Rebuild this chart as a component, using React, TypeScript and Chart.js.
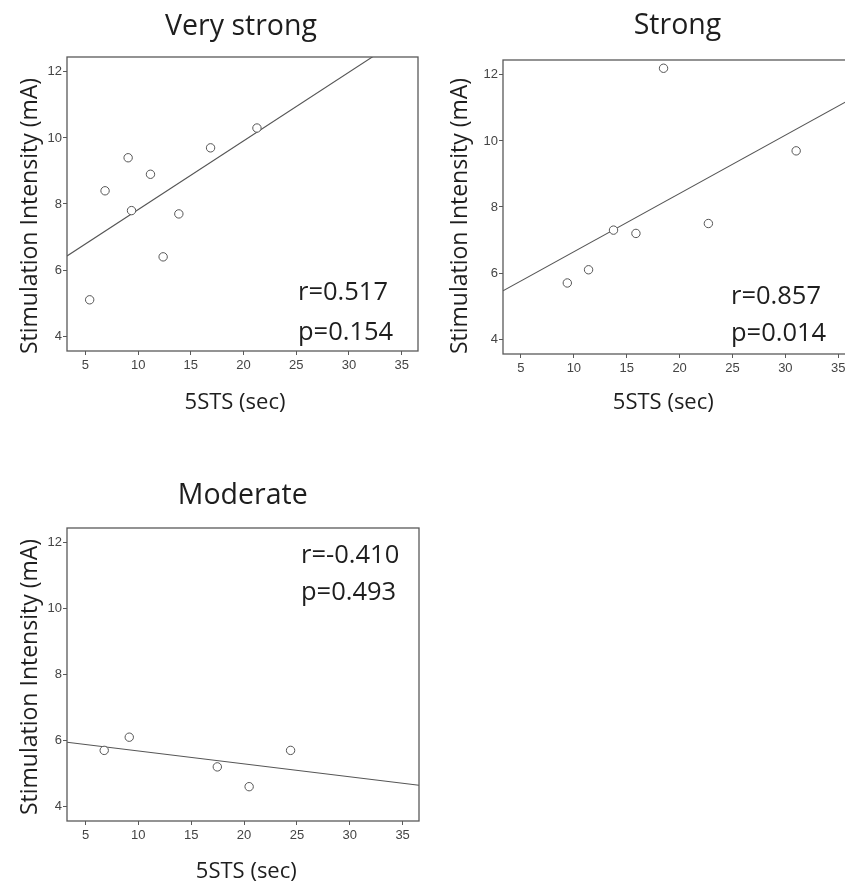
import React, { useEffect, useRef } from "react";
import { Chart, registerables } from "chart.js";

Chart.register(...registerables);

// ---------- data ----------
const panelTitles = ["Very strong", "Strong", "Moderate"];
const xAxisLabel = "5STS (sec)";
const yAxisLabel = "Stimulation Intensity (mA)";
const xTickValues = [5, 10, 15, 20, 25, 30, 35];
const yTickValues = [4, 6, 8, 10, 12];

const veryStrongX = [5.4, 6.86, 9.05, 9.37, 11.17, 12.37, 13.86, 16.87, 21.27];
const veryStrongY = [5.1, 8.4, 9.4, 7.8, 8.9, 6.4, 7.7, 9.7, 10.3];
const strongX = [9.38, 11.39, 13.75, 15.87, 18.48, 22.72, 31.02];
const strongY = [5.7, 6.1, 7.3, 7.2, 12.2, 7.5, 9.7];
const moderateX = [6.77, 9.14, 17.47, 20.48, 24.4];
const moderateY = [5.7, 6.1, 5.2, 4.6, 5.7];

const fitIntercepts = [5.75, 4.878, 6.076];
const fitSlopes = [0.208, 0.1765, -0.0392];
const rLabels = ["r=0.517", "r=0.857", "r=-0.410"];
const pLabels = ["p=0.154", "p=0.014", "p=0.493"];

// ---------- layout ----------
type PanelCfg = {
  left: number; top: number; width: number; height: number;
  area: { left: number; right: number; top: number; bottom: number };
  xMin: number; xMax: number; yMin: number; yMax: number;
  titleX: number; titleY: number;
  yLabelX: number; yLabelY: number;
  xLabelX: number; xLabelY: number;
  statsX: number; rY: number; pY: number;
};

const layouts: PanelCfg[] = [
  {
    left: 0, top: 0, width: 420, height: 420,
    area: { left: 67, right: 418, top: 57, bottom: 351 },
    xMin: 3.25, xMax: 36.55, yMin: 3.55, yMax: 12.45,
    titleX: 241, titleY: 34.5,
    yLabelX: 37, yLabelY: 216,
    xLabelX: 235, xLabelY: 409,
    statsX: 298, rY: 299.5, pY: 340,
  },
  {
    left: 420, top: 0, width: 440, height: 420,
    area: { left: 83, right: 432, top: 60, bottom: 354 },
    xMin: 3.3, xMax: 36.3, yMin: 3.55, yMax: 12.45,
    titleX: 257.5, titleY: 34,
    yLabelX: 47, yLabelY: 216,
    xLabelX: 243.3, xLabelY: 409,
    statsX: 311, rY: 304, pY: 340.5,
  },
  {
    left: 0, top: 440, width: 420, height: 446,
    area: { left: 67, right: 419, top: 88, bottom: 381 },
    xMin: 3.25, xMax: 36.55, yMin: 3.56, yMax: 12.44,
    titleX: 242.7, titleY: 64,
    yLabelX: 37, yLabelY: 237,
    xLabelX: 246.3, xLabelY: 437.7,
    statsX: 301, rY: 122.7, pY: 160,
  },
];

const seriesX = [veryStrongX, strongX, moderateX];
const seriesY = [veryStrongY, strongY, moderateY];

const TEXT_FONT = "'Open Sans', Lato, sans-serif";
const AXIS_COLOR = "#595959";
const TICK_FONT = "'Liberation Sans', Arial, sans-serif";

function Panel({ index }: { index: number }) {
  const ref = useRef<HTMLCanvasElement | null>(null);
  const cfg = layouts[index];

  useEffect(() => {
    if (!ref.current) return;
    const xs = seriesX[index];
    const ys = seriesY[index];
    const a = fitIntercepts[index];
    const b = fitSlopes[index];

    const textPlugin = {
      id: "panelText" + index,
      afterDraw(chart: any) {
        const ctx = chart.ctx;
        const ca = chart.chartArea;
        ctx.save();
        // frame
        ctx.strokeStyle = AXIS_COLOR;
        ctx.lineWidth = 1.3;
        ctx.strokeRect(ca.left, ca.top, ca.right - ca.left, ca.bottom - ca.top);
        ctx.fillStyle = "#1e1e1e";
        ctx.textBaseline = "alphabetic";
        // title
        ctx.font = `28.5px ${TEXT_FONT}`;
        ctx.textAlign = "center";
        ctx.fillText(panelTitles[index], cfg.titleX, cfg.titleY);
        // x axis label
        ctx.font = `22px ${TEXT_FONT}`;
        ctx.fillText(xAxisLabel, cfg.xLabelX, cfg.xLabelY);
        // y axis label
        ctx.save();
        ctx.translate(cfg.yLabelX, cfg.yLabelY);
        ctx.rotate(-Math.PI / 2);
        ctx.font = `23px ${TEXT_FONT}`;
        ctx.fillText(yAxisLabel, 0, 0);
        ctx.restore();
        // stats
        ctx.font = `25.5px ${TEXT_FONT}`;
        ctx.textAlign = "left";
        ctx.fillText(rLabels[index], cfg.statsX, cfg.rY);
        ctx.fillText(pLabels[index], cfg.statsX, cfg.pY);
        ctx.restore();
      },
    };

    const chart = new Chart(ref.current, {
      type: "scatter",
      data: {
        datasets: [
          {
            type: "scatter",
            data: xs.map((x, i) => ({ x, y: ys[i] })),
            pointRadius: 4.2,
            pointHoverRadius: 4.2,
            pointBorderWidth: 1,
            pointBorderColor: "#555",
            pointBackgroundColor: "#fff",
            order: 0,
          } as any,
          {
            type: "line",
            data: [
              { x: cfg.xMin, y: a + b * cfg.xMin },
              { x: cfg.xMax, y: a + b * cfg.xMax },
            ],
            borderColor: "#555",
            borderWidth: 1.1,
            pointRadius: 0,
            showLine: true,
            fill: false,
            order: 1,
          } as any,
        ],
      },
      options: {
        animation: false,
        responsive: false,
        events: [],
        layout: {
          autoPadding: false,
          padding: {
            top: cfg.area.top,
            left: 0,
            right: cfg.width - cfg.area.right,
            bottom: 0,
          },
        },
        plugins: {
          legend: { display: false },
          title: { display: false },
          tooltip: { enabled: false },
        },
        scales: {
          x: {
            type: "linear",
            min: cfg.xMin,
            max: cfg.xMax,
            afterBuildTicks: (s: any) => {
              s.ticks = xTickValues.map((v) => ({ value: v }));
            },
            afterFit: (s: any) => {
              s.height = cfg.height - cfg.area.bottom;
              s.paddingLeft = 0;
              s.paddingRight = 0;
            },
            border: { display: false },
            grid: {
              drawOnChartArea: false,
              drawTicks: true,
              tickLength: 4,
              tickColor: AXIS_COLOR,
              color: AXIS_COLOR,
            },
            ticks: {
              padding: 3,
              color: "#444",
              maxRotation: 0,
              font: { family: TICK_FONT, size: 13 },
            },
          },
          y: {
            type: "linear",
            min: cfg.yMin,
            max: cfg.yMax,
            afterBuildTicks: (s: any) => {
              s.ticks = yTickValues.map((v) => ({ value: v }));
            },
            afterFit: (s: any) => {
              s.width = cfg.area.left;
              s.paddingTop = 0;
              s.paddingBottom = 0;
            },
            border: { display: false },
            grid: {
              drawOnChartArea: false,
              drawTicks: true,
              tickLength: 4,
              tickColor: AXIS_COLOR,
              color: AXIS_COLOR,
            },
            ticks: {
              padding: 1,
              color: "#444",
              font: { family: TICK_FONT, size: 13 },
            },
          },
        },
      } as any,
      plugins: [textPlugin],
    });
    return () => chart.destroy();
  }, [index]);

  return (
    <canvas
      ref={ref}
      width={cfg.width}
      height={cfg.height}
      style={{
        position: "absolute",
        left: cfg.left,
        top: cfg.top,
        width: cfg.width,
        height: cfg.height,
      }}
    />
  );
}

export default function App() {
  return (
    <div
      style={{
        position: "absolute",
        left: 0,
        top: 0,
        width: 845,
        height: 886,
        overflow: "hidden",
        background: "#fff",
      }}
    >
      <Panel index={0} />
      <Panel index={1} />
      <Panel index={2} />
    </div>
  );
}
